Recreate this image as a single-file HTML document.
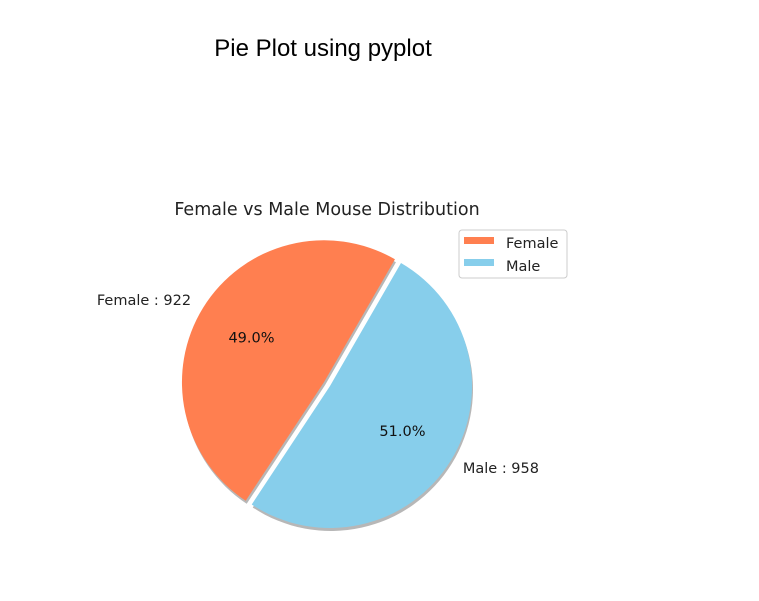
<!DOCTYPE html>
<html><head><meta charset="utf-8"><style>
html,body{margin:0;padding:0;background:#fff;}
svg{display:block;font-family:"DejaVu Sans","Liberation Sans",sans-serif;}
</style></head><body>
<svg width="759" height="601" viewBox="0 0 759 601">
<text x="323" y="56" font-size="24" text-anchor="middle" fill="#000" font-family="Liberation Sans, sans-serif">Pie Plot using pyplot</text>
<text x="327" y="215" font-size="17.5" text-anchor="middle" fill="#222">Female vs Male Mouse Distribution</text>
<g id="pie"></g>
<g>
<rect x="459" y="230" width="108" height="48" rx="3" fill="#fff" stroke="#ccc"/>
<rect x="464" y="237" width="30" height="7" fill="#FF7F50"/>
<text x="506" y="248" font-size="14.5" fill="#222">Female</text>
<rect x="464" y="259" width="30" height="7" fill="#87CEEB"/>
<text x="506" y="271" font-size="14.5" fill="#222">Male</text>
</g>
</svg>
<script>
const categories = ["Female", "Male"];
const values = [922, 958];
const colors = ["#FF7F50", "#87CEEB"];
const explode = [0.05, 0];

const g = document.getElementById('pie');
const NS = 'http://www.w3.org/2000/svg';
const cx = 330, cy = 386, r = 142, startAngle = 60;
const total = values.reduce((a,b)=>a+b,0);
function pt(x,y,rad,deg){const a=deg*Math.PI/180;return [x+rad*Math.cos(a), y-rad*Math.sin(a)];}
function wedgePath(x,y,a0,a1){
  const p0=pt(x,y,r,a0), p1=pt(x,y,r,a1);
  const large=(a1-a0)>180?1:0;
  return `M${x},${y} L${p0[0]},${p0[1]} A${r},${r} 0 ${large} 0 ${p1[0]},${p1[1]} Z`;
}
let a = startAngle;
const wedges=[];
values.forEach((v,i)=>{
  const span = v/total*360;
  const mid = a + span/2;
  const off = pt(0,0,explode[i]*r,mid);
  wedges.push({a0:a,a1:a+span,mid,x:cx+off[0],y:cy+off[1],i,v,span});
  a += span;
});
wedges.forEach(w=>{
  const s=document.createElementNS(NS,'path');
  s.setAttribute('d',wedgePath(w.x+1,w.y+3,w.a0,w.a1));
  s.setAttribute('fill','#999');
  s.setAttribute('opacity','0.7');
  
  
  g.appendChild(s);
});
wedges.forEach(w=>{
  const p=document.createElementNS(NS,'path');
  p.setAttribute('d',wedgePath(w.x,w.y,w.a0,w.a1));
  p.setAttribute('fill',colors[w.i]);
  
  
  g.appendChild(p);
  const pc=pt(w.x,w.y,r*0.6,w.mid);
  const t=document.createElementNS(NS,'text');
  t.setAttribute('x',pc[0]);t.setAttribute('y',pc[1]+5);
  t.setAttribute('text-anchor','middle');t.setAttribute('font-size','14.5');t.setAttribute('fill','#111');
  t.textContent=(w.v/total*100).toFixed(1)+'%';
  
  
  g.appendChild(t);
  const pl=pt(w.x,w.y,r*1.1,w.mid);
  const l=document.createElementNS(NS,'text');
  l.setAttribute('x',pl[0]);l.setAttribute('y',pl[1]+5);
  l.setAttribute('text-anchor',Math.cos(w.mid*Math.PI/180)<0?'end':'start');
  l.setAttribute('font-size','14.5');l.setAttribute('fill','#222');
  l.textContent=categories[w.i]+' : '+w.v;
  
  
  g.appendChild(l);
});
</script>
</body></html>
